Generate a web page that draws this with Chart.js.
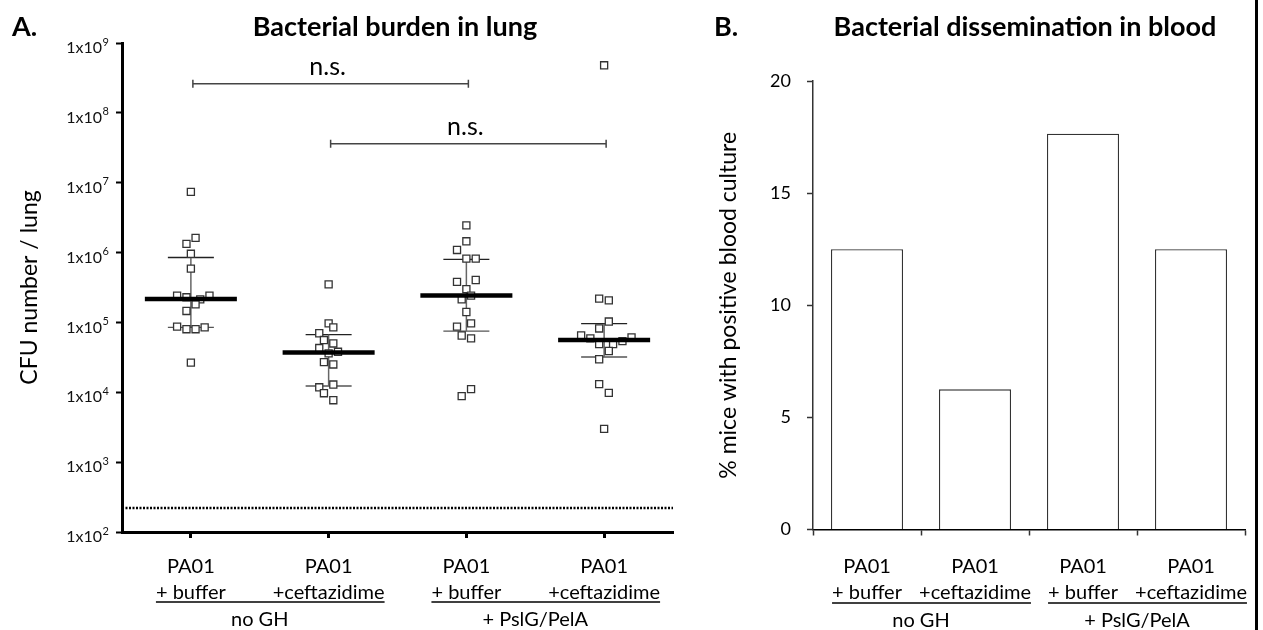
<!DOCTYPE html>
<html>
<head>
<meta charset="utf-8">
<script src="https://cdn.jsdelivr.net/npm/chart.js@4"></script>
<style>
body{margin:0;background:#fff;width:1263px;height:630px;position:relative;overflow:hidden}
#lung{position:absolute;left:0;top:0}
#blood{position:absolute;left:700px;top:0}
#edge{position:absolute;left:1255px;top:0;width:3px;height:630px;background:#000}
</style>
</head>
<body>
<canvas id="lung" width="700" height="630"></canvas>
<canvas id="blood" width="563" height="630"></canvas>
<div id="edge"></div>
<script>
"use strict";

const FONT = 'Lato, "Noto Sans", sans-serif';

const categories = [['PA01', '+ buffer'], ['PA01', '+ceftazidime'], ['PA01', '+ buffer'], ['PA01', '+ceftazidime']];
const groupNames = ['no GH', '+ PslG/PelA'];
const yTickValues = [1e2, 1e3, 1e4, 1e5, 1e6, 1e7, 1e8, 1e9];
const yTickBase = '1x10';
const yTickPowers = ['2', '3', '4', '5', '6', '7', '8', '9'];

// CFU per lung, one value per mouse, and the sideways spread of each square
const cfuNoGhBuffer = [7.4e6, 1.62e6, 1.33e6, 9.6e5, 5.9e5, 2.42e5, 2.29e5, 2.14e5, 2.42e5, 1.82e5, 1.46e5, 8.7e4, 8.0e4, 8.0e4, 8.5e4, 2.66e4];
const jitNoGhBuffer = [0, 0.034, -0.032, 0, 0, -0.1, -0.032, 0.068, 0.135, 0.034, -0.032, -0.1, -0.032, 0.034, 0.1, 0];
const cfuNoGhCef = [3.5e5, 9.7e4, 8.5e4, 7.0e4, 5.6e4, 5.0e4, 4.3e4, 3.8e4, 3.6e4, 2.7e4, 2.5e4, 1.29e4, 1.18e4, 9.7e3, 7.7e3];
const jitNoGhCef = [0, 0, 0.034, -0.068, -0.034, 0.034, -0.068, 0.068, 0, -0.034, 0.034, 0.034, -0.068, -0.034, 0.034];
const cfuGhBuffer = [2.45e6, 1.45e6, 1.09e6, 8.2e5, 8.2e5, 3.8e5, 4.05e5, 3.0e5, 2.42e5, 2.14e5, 1.41e5, 9.7e4, 8.7e4, 6.5e4, 5.9e4, 1.11e4, 8.8e3];
const jitGhBuffer = [0, 0, -0.068, 0, 0.068, -0.068, 0.068, 0, 0.034, -0.034, 0, 0.034, -0.068, -0.034, 0.034, 0.034, -0.034];
const cfuGhCef = [4.8e8, 2.19e5, 2.07e5, 1.03e5, 8.2e4, 6.5e4, 5.9e4, 4.9e4, 4.9e4, 5.4e4, 6.1e4, 3.9e4, 2.97e4, 1.31e4, 9.8e3, 3.0e3];
const jitGhCef = [0, -0.036, 0.034, 0.034, -0.036, -0.167, -0.1, -0.036, 0.065, 0.133, 0.199, 0.034, -0.036, -0.036, 0.034, 0];

const cfuMedian = [2.17e5, 3.7e4, 2.42e5, 5.6e4];
const cfuUpper = [8.5e5, 6.7e4, 8.0e5, 9.6e4];
const cfuLower = [8.5e4, 1.23e4, 7.5e4, 3.2e4];
const detectionLimit = 220;
const nsPairs = [[1, 3], [2, 4]];
const nsLevels = [2.6e8, 3.6e7];

const bloodPositive = [12.5, 6.25, 17.65, 12.5];

// draws titles, the rotated y title, group underlines, n.s. brackets and the 1x10^n labels
function panelDecor(cfg) {
  return {
    id: 'decor' + cfg.letter,
    afterDraw(chart) {
      const ctx = chart.ctx;
      const xs = chart.scales.x;
      const ys = chart.scales.y;
      const area = chart.chartArea;
      ctx.save();
      ctx.fillStyle = '#000';
      ctx.textBaseline = 'middle';
      ctx.font = 'bold 27px ' + FONT;
      ctx.textAlign = 'left';
      ctx.fillText(cfg.letter, cfg.letterX, 27);
      ctx.textAlign = 'center';
      ctx.fillText(cfg.title, cfg.titleX, 27);

      ctx.font = '23px ' + FONT;
      ctx.save();
      ctx.translate(cfg.yTitleX, (area.top + area.bottom) / 2);
      ctx.rotate(-Math.PI / 2);
      ctx.fillText(cfg.yTitle, 0, 0);
      ctx.restore();

      ctx.font = '20px ' + FONT;
      ctx.strokeStyle = '#000';
      ctx.lineWidth = 1.5;
      groupNames.forEach((name, g) => {
        const a = g * 2, b = g * 2 + 1;
        const xa = xs.getPixelForValue(a + cfg.catBase);
        const xb = xs.getPixelForValue(b + cfg.catBase);
        const x1 = xa - ctx.measureText(categories[a][1]).width / 2;
        const x2 = xb + ctx.measureText(categories[b][1]).width / 2;
        ctx.beginPath();
        ctx.moveTo(x1, cfg.underlineY);
        ctx.lineTo(x2, cfg.underlineY);
        ctx.stroke();
        ctx.fillText(name, (xa + xb) / 2, cfg.underlineY + 18);
      });

      if (cfg.brackets) {
        ctx.strokeStyle = '#444';
        ctx.font = '25px ' + FONT;
        nsPairs.forEach((pair, i) => {
          const x1 = xs.getPixelForValue(pair[0]) + 2;
          const x2 = xs.getPixelForValue(pair[1]) + 2;
          const y = ys.getPixelForValue(nsLevels[i]);
          ctx.beginPath();
          ctx.moveTo(x1, y); ctx.lineTo(x2, y);
          ctx.moveTo(x1, y - 4); ctx.lineTo(x1, y + 4);
          ctx.moveTo(x2, y - 4); ctx.lineTo(x2, y + 4);
          ctx.stroke();
          ctx.fillText('n.s.', (x1 + x2) / 2 - 3, y - 17);
        });

        ctx.fillStyle = '#111';
        ctx.textAlign = 'right';
        yTickValues.forEach((v, i) => {
          const y = ys.getPixelForValue(v);
          ctx.font = '11px ' + FONT;
          const pw = ctx.measureText(yTickPowers[i]).width;
          ctx.fillText(yTickPowers[i], 109, y - 1);
          ctx.font = '16px ' + FONT;
          ctx.fillText(yTickBase, 109 - pw - 0.5, y + 5);
        });
      }
      ctx.restore();
    }
  };
}

function seg(data, color, width, order, dash) {
  return {data: data, showLine: true, borderColor: color, borderWidth: width,
    pointRadius: 0, order: order, borderDash: dash || []};
}

const cfuGroups = [cfuNoGhBuffer, cfuNoGhCef, cfuGhBuffer, cfuGhCef];
const jitGroups = [jitNoGhBuffer, jitNoGhCef, jitGhBuffer, jitGhCef];
const pointData = [];
cfuGroups.forEach((vals, g) => {
  vals.forEach((v, i) => pointData.push({x: g + 1 + jitGroups[g][i], y: v}));
});

const lungSets = [seg([{x: 0.5, y: detectionLimit}, {x: 4.5, y: detectionLimit}], '#000', 2.5, 3, [2, 1.5])];
cfuMedian.forEach((m, g) => {
  const c = g + 1;
  lungSets.push(seg([{x: c, y: cfuLower[g]}, {x: c, y: cfuUpper[g]}], '#666', 1.5, 2));
  lungSets.push(seg([{x: c - 0.167, y: cfuUpper[g]}, {x: c + 0.167, y: cfuUpper[g]}], '#222', 1.3, 2));
  lungSets.push(seg([{x: c - 0.167, y: cfuLower[g]}, {x: c + 0.167, y: cfuLower[g]}], '#555', 1.3, 2));
  lungSets.push(seg([{x: c - 0.334, y: m}, {x: c + 0.334, y: m}], '#000', 4.5, 0));
});
lungSets.push({data: pointData, pointStyle: 'rect', pointRadius: 5, backgroundColor: '#fff',
  borderColor: '#333', borderWidth: 1.3, order: 1});

new Chart(document.getElementById('lung'), {
  type: 'scatter',
  data: {datasets: lungSets},
  options: {
    responsive: false,
    animation: false,
    events: [],
    layout: {padding: {left: 0, right: 27, top: 43, bottom: 0}},
    plugins: {legend: {display: false}, tooltip: {enabled: false}},
    scales: {
      x: {
        type: 'linear', min: 0.5, max: 4.5,
        border: {color: '#000', width: 3},
        grid: {drawOnChartArea: false, tickLength: 6, tickColor: '#000', tickWidth: 3},
        afterBuildTicks: s => { s.ticks = categories.map((c, i) => ({value: i + 1})); },
        ticks: {
          callback: v => categories[v - 1],
          color: '#000', padding: 16,
          font: {family: FONT, size: 20, lineHeight: 1.3}
        },
        afterFit: s => { s.height = 98; s.paddingLeft = 0; s.paddingRight = 0; }
      },
      y: {
        type: 'logarithmic', min: 1e2, max: 1e9,
        border: {color: '#000', width: 3},
        grid: {drawOnChartArea: false, tickLength: 6, tickColor: '#000', tickWidth: 2},
        afterBuildTicks: s => { s.ticks = yTickValues.map(v => ({value: v})); },
        ticks: {display: false},
        afterFit: s => { s.width = 122; s.paddingTop = 0; s.paddingBottom = 0; }
      }
    }
  },
  plugins: [panelDecor({letter: 'A.', letterX: 12, title: 'Bacterial burden in lung', titleX: 395,
    yTitle: 'CFU number / lung', yTitleX: 30, underlineY: 602, catBase: 1, brackets: true})]
});

new Chart(document.getElementById('blood'), {
  type: 'bar',
  data: {
    labels: categories,
    datasets: [{
      data: bloodPositive,
      backgroundColor: '#fff', borderColor: '#333', borderWidth: 1.3,
      barPercentage: 0.667, categoryPercentage: 1
    }]
  },
  options: {
    responsive: false,
    animation: false,
    events: [],
    layout: {padding: {left: 0, right: 18, top: 81, bottom: 0}},
    plugins: {legend: {display: false}, tooltip: {enabled: false}},
    scales: {
      x: {
        border: {color: '#000', width: 1.5},
        grid: {drawOnChartArea: false, tickLength: 6, tickColor: '#333', tickWidth: 1.5},
        ticks: {color: '#000', padding: 18, maxRotation: 0, autoSkip: false,
          font: {family: FONT, size: 20, lineHeight: 1.3}},
        afterFit: s => { s.height = 100.5; s.paddingLeft = 0; s.paddingRight = 0; }
      },
      y: {
        min: 0, max: 20,
        border: {color: '#333', width: 1.5},
        grid: {drawOnChartArea: false, tickLength: 6, tickColor: '#333', tickWidth: 1.5},
        ticks: {stepSize: 5, color: '#000', padding: 16, font: {family: FONT, size: 18}},
        afterFit: s => { s.width = 113; s.paddingTop = 0; s.paddingBottom = 0; }
      }
    }
  },
  plugins: [panelDecor({letter: 'B.', letterX: 14, title: 'Bacterial dissemination in blood', titleX: 325,
    yTitle: '% mice with positive blood culture', yTitleX: 29, underlineY: 603, catBase: 0, brackets: false})]
});
</script>
</body>
</html>
